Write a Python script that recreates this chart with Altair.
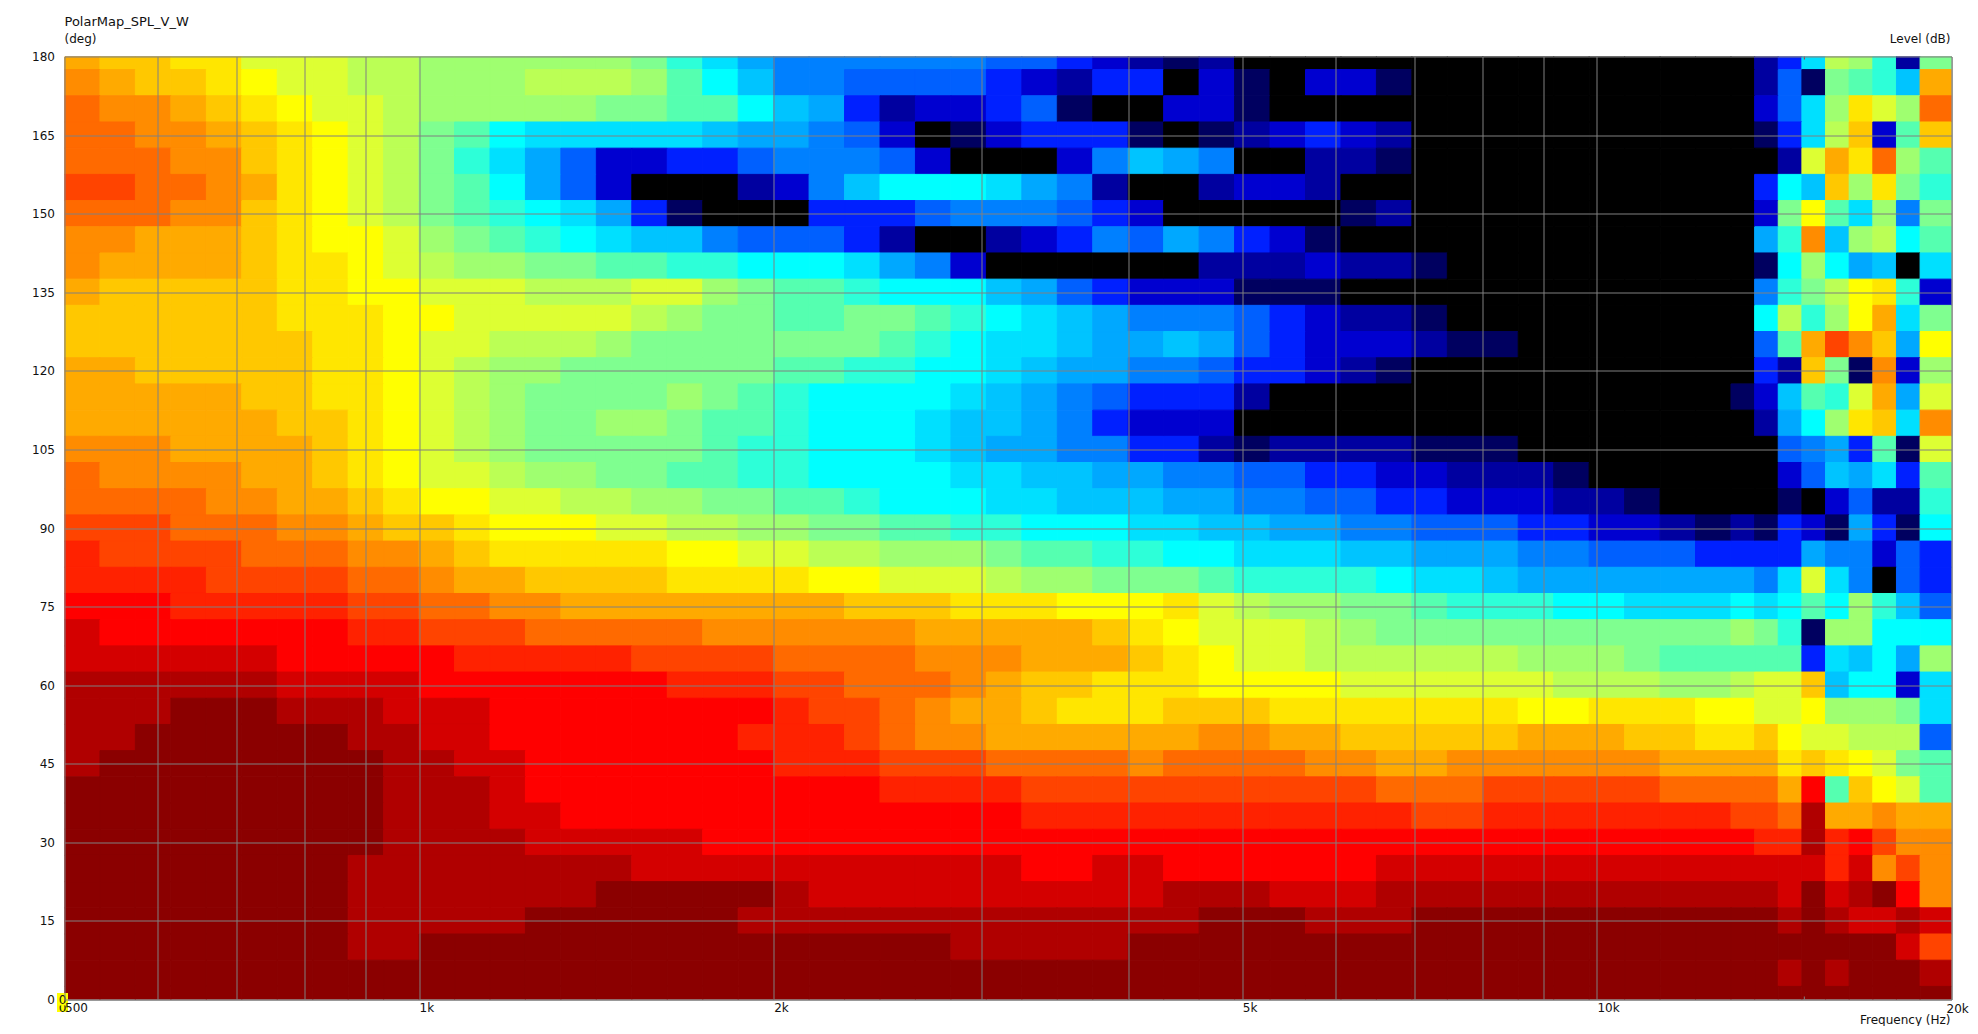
import altair as alt
import pandas as pd

FREQ_EDGES = [500, 535.9, 574.3, 615.6, 659.8, 707.1, 757.9, 812.3, 870.6, 933, 1000, 1071.8, 1148.7, 1231.1,
              1319.5, 1414.2, 1515.7, 1624.5, 1741.1, 1866.1, 2000, 2143.5, 2297.4, 2462.3, 2639, 2828.4, 3031.4,
              3249, 3482.2, 3732.1, 4000, 4287, 4594.8, 4924.6, 5278, 5656.9, 6062.9, 6498, 6964.4, 7464.3, 8000,
              8574, 9189.6, 9849.2, 10556, 11313.7, 12125.7, 12996, 13611, 14254, 14929, 15635, 16374, 17149,
              17960, 18809, 20000]
GRID_FREQS = [500, 600, 700, 800, 900, 1000, 2000, 3000, 4000, 5000, 6000, 7000, 8000, 9000, 10000, 20000]
ANGLE_TICKS = [0, 15, 30, 45, 60, 75, 90, 105, 120, 135, 150, 165, 180]
MINOR_TICK_FREQ = [15000]
BAND_COLORS = ["#8b0000", "#b00000", "#d40000", "#ff0000", "#ff2200", "#ff4400", "#ff6a00", "#ff8c00", "#ffaa00",
               "#ffc800", "#ffe600", "#ffff00", "#ddff33", "#bbff55", "#9fff70", "#7fff90", "#55ffb0", "#2dffd8",
               "#00ffff", "#00e0ff", "#00c4ff", "#00a8ff", "#0080ff", "#0060ff", "#0020ff", "#0000d0", "#0000a0",
               "#000060", "#000000"]
B = 28
R180 = [8,9,9,10,10,12,12,12,13,13, 14,14,14,14,14,14,15,17,19,21, 22,22,22,22,22,22,23,23,24,25, 26,27,26,B,B,B,B,B,B,B, B,B,B,B,B,B,B, B,26,24,19,13,14,17,26,15]
R175 = [7,8,9,9,10,11,12,12,13,13, 14,14,14,13,13,13,14,16,18,20, 22,22,23,23,23,23,24,25,26,24, 24,B,25,27,B,25,25,27,B,B, B,B,B,B,B,B,B, B,26,23,27,15,16,17,20,8]
R170 = [6,7,7,8,9,10,11,12,12,13, 14,14,14,14,14,15,15,16,16,18, 20,21,24,26,25,25,24,23,27,B, B,25,25,27,B,B,B,B,B,B, B,B,B,B,B,B,B, B,25,23,19,14,10,12,14,6]
R165 = [6,6,7,7,8,9,10,11,12,13, 15,16,18,19,19,19,19,19,20,21, 21,22,23,25,B,27,25,24,24,24, 27,B,27,26,25,24,25,26,B,B, B,B,B,B,B,B,B, B,27,24,19,13,9,25,16,9]
R160 = [6,6,6,7,7,9,10,11,12,13, 15,17,19,21,23,25,25,24,24,23, 22,22,22,23,25,B,B,B,25,22, 20,21,22,B,B,26,26,27,B,B, B,B,B,B,B,B,B, B,B,26,12,8,10,6,14,16]
R155 = [5,5,6,6,7,8,10,11,12,13, 15,16,18,21,23,25,B,B,B,26, 25,22,20,18,18,18,19,21,22,26, B,B,26,25,25,26,B,B,B,B, B,B,B,B,B,B,B, B,24,18,20,9,14,10,15,17]
R150 = [6,6,6,7,7,9,10,11,12,13, 15,16,17,18,19,21,24,27,B,B, B,24,24,24,23,22,22,22,23,24, 25,B,B,B,B,B,27,26,B,B, B,B,B,B,B,B,B, B,25,15,11,16,19,14,22,15]
R145 = [7,7,8,8,8,9,10,11,11,12, 14,15,16,17,18,19,20,20,22,23, 23,23,24,26,B,B,26,25,24,22, 23,21,22,24,25,27,B,B,B,B, B,B,B,B,B,B,B, B,21,17,7,20,14,13,18,16]
R140 = [7,8,8,8,8,9,10,10,11,12, 13,14,14,15,15,16,16,17,17,18, 18,18,19,21,22,25,B,B,B,B, B,B,26,26,26,25,26,26,27,B, B,B,B,B,B,B,B, B,27,18,14,18,21,20,B,19]
R135 = [8,9,9,9,9,9,10,10,11,11, 12,12,12,13,13,13,12,12,14,15, 16,16,17,18,18,18,20,21,23,24, 25,25,25,27,27,27,B,B,B,B, B,B,B,B,B,B,B, B,22,17,15,13,11,10,17,25]
R130 = [9,9,9,9,9,9,10,10,10,11, 11,12,12,12,12,12,13,14,15,15, 16,16,15,15,16,17,18,19,20,21, 22,22,22,23,24,25,26,26,27,B, B,B,B,B,B,B,B, B,18,13,17,14,11,8,19,15]
R125 = [9,9,9,9,9,9,9,10,10,11, 12,12,13,13,13,14,15,15,15,15, 15,15,15,16,17,18,19,19,20,21, 21,20,21,23,24,25,25,25,26,27, 27,B,B,B,B,B,B, B,23,16,8,5,7,9,21,11]
R120 = [8,8,9,9,9,9,9,10,10,11, 12,13,14,14,15,15,15,15,15,15, 16,16,17,17,18,18,19,20,21,21, 22,22,23,24,24,25,26,27,B,B, B,B,B,B,B,B,B, B,24,26,9,15,27,7,25,14]
R115 = [8,8,8,8,8,9,9,10,10,11, 12,13,14,15,15,15,15,14,15,16, 17,18,18,18,18,19,20,21,22,23, 24,24,24,26,B,B,B,B,B,B, B,B,B,B,B,B,B, 27,25,20,16,17,12,8,21,12]
R110 = [8,8,8,8,8,8,9,9,10,11, 12,13,14,15,15,14,14,15,16,16, 17,18,18,18,19,20,20,21,22,24, 25,25,25,B,B,B,B,B,B,B, B,B,B,B,B,B,B, B,26,21,18,14,10,9,19,7]
R105 = [7,7,7,8,8,8,8,9,10,11, 12,13,14,15,15,15,15,15,16,17, 17,18,18,18,19,20,21,21,22,22, 24,24,26,27,26,26,26,26,27,27, 27,B,B,B,B,B,B, B,B,23,22,21,24,16,27,12]
R100 = [6,7,7,7,7,8,8,9,10,11, 12,12,13,14,14,15,15,16,16,17, 17,18,18,18,18,19,19,20,20,21, 21,22,22,23,23,24,24,25,25,26, 26,26,27,B,B,B,B, B,B,25,23,20,21,19,24,16]
R95 = [6,6,6,6,7,7,8,8,9,10, 11,11,12,12,13,13,14,14,15,15, 16,16,17,18,18,18,19,19,20,20, 20,21,21,22,22,23,23,24,24,25, 25,25,26,26,27,B,B, B,B,27,B,25,23,26,26,17]
R90 = [5,5,5,6,6,6,7,7,8,9, 9,10,11,11,11,12,12,13,13,14, 14,15,15,16,16,17,17,18,18,18, 19,19,20,20,21,21,22,22,23,23, 23,24,24,25,25,26,27, 26,27,24,25,27,21,24,27,18]
R85 = [4,5,5,5,5,6,6,6,7,7, 8,9,10,10,10,10,10,11,11,12, 12,13,13,14,14,14,15,16,16,17, 17,18,18,19,19,19,20,20,21,21, 21,22,22,23,23,23,24, 24,24,24,21,22,22,25,23,24]
R80 = [4,4,4,4,5,5,5,5,6,6, 7,8,8,9,9,9,9,10,10,10, 10,11,11,12,12,12,13,14,14,15, 15,15,16,17,17,17,17,18,19,19, 20,21,21,21,21,21,21, 21,22,19,12,19,22,B,23,24]
R75 = [3,3,3,4,4,4,4,4,5,5, 6,6,7,7,8,8,8,8,8,8, 8,8,9,9,9,10,10,10,11,11, 11,10,12,13,14,14,15,15,16,17, 17,17,18,18,19,19,19, 18,19,18,16,18,14,17,20,23]
R70 = [2,3,3,3,3,3,3,3,4,4, 5,5,5,6,6,6,6,6,7,7, 7,7,7,7,8,8,8,8,8,9, 10,11,12,12,12,13,14,15,15,15, 15,15,15,15,15,15,15, 14,15,17,27,14,14,18,18,18]
R65 = [2,2,2,2,2,2,3,3,3,3, 3,4,4,4,4,4,5,5,5,5, 6,6,6,6,7,7,7,8,8,8, 9,10,11,12,12,13,13,13,13,13, 13,14,14,14,15,16,16, 16,16,16,24,19,20,18,21,14]
R60 = [1,1,1,1,1,1,2,2,2,2, 3,3,3,3,3,3,3,4,4,4, 5,5,6,6,6,7,8,9,9,10, 10,10,11,11,11,11,12,12,12,12, 12,12,13,13,13,14,14, 13,12,12,9,20,18,18,25,19]
R55 = [1,1,1,0,0,0,1,1,1,2, 2,2,3,3,3,3,3,3,3,3, 4,5,5,6,7,8,8,9,10,10, 10,9,9,9,10,10,10,10,10,10, 10,11,11,10,10,10,11, 11,12,12,11,14,14,14,15,19]
R50 = [1,1,0,0,0,0,0,0,1,1, 2,2,3,3,3,3,3,3,3,4, 4,4,5,6,7,7,8,8,8,8, 8,8,7,7,8,8,9,9,9,9, 9,8,8,8,9,9,10, 10,9,11,12,12,13,13,13,23]
R45 = [1,0,0,0,0,0,0,0,0,1, 1,2,2,3,3,3,3,3,3,3, 4,4,4,5,5,5,6,6,6,6, 7,6,6,6,6,7,7,8,8,7, 7,7,7,7,7,8,8, 8,8,10,9,10,11,12,15,16]
R40 = [0,0,0,0,0,0,0,0,0,1, 1,1,2,3,3,3,3,3,3,3, 3,3,3,4,4,4,4,5,5,5, 5,5,5,5,5,5,5,6,6,6, 5,5,5,5,5,6,6, 6,6,8,3,16,9,11,12,16]
R35 = [0,0,0,0,0,0,0,0,0,1, 1,1,2,2,3,3,3,3,3,3, 3,3,3,3,3,3,3,4,4,4, 4,4,4,4,4,4,4,4,5,5, 4,4,4,4,4,4,4, 5,5,6,1,8,8,7,8,8]
R30 = [0,0,0,0,0,0,0,0,0,1, 1,1,1,2,2,2,2,2,3,3, 3,3,3,3,3,3,3,3,3,3, 3,3,3,3,3,3,3,3,3,3, 3,3,3,3,3,3,3, 3,4,4,1,4,3,5,7,7]
R25 = [0,0,0,0,0,0,0,0,1,1, 1,1,1,1,1,1,2,2,2,2, 2,2,2,2,2,2,2,3,3,2, 2,3,3,3,3,3,3,2,2,2, 2,2,2,2,2,2,2, 2,2,2,2,4,2,7,5,7]
R20 = [0,0,0,0,0,0,0,0,1,1, 1,1,1,1,1,0,0,0,0,0, 1,2,2,2,2,2,2,2,2,2, 2,1,1,1,2,2,2,1,1,1, 1,1,1,1,1,1,1, 1,1,2,0,2,1,0,3,7]
R15 = [0,0,0,0,0,0,0,0,1,1, 1,1,1,0,0,0,0,0,0,1, 1,1,1,1,1,1,1,1,1,1, 1,1,0,0,0,1,1,1,0,0, 0,0,0,0,0,0,0, 0,0,1,0,1,2,2,1,2]
R10 = [0,0,0,0,0,0,0,0,1,1, 0,0,0,0,0,0,0,0,0,0, 0,0,0,0,0,1,1,1,1,1, 0,0,0,0,0,0,0,0,0,0, 0,0,0,0,0,0,0, 0,0,0,0,0,0,0,2,5]
R5 = [0,0,0,0,0,0,0,0,0,0, 0,0,0,0,0,0,0,0,0,0, 0,0,0,0,0,0,0,0,0,0, 0,0,0,0,0,0,0,0,0,0, 0,0,0,0,0,0,0, 0,0,1,0,1,0,0,0,1]
R0 = [0,0,0,0,0,0,0,0,0,0, 0,0,0,0,0,0,0,0,0,0, 0,0,0,0,0,0,0,0,0,0, 0,0,0,0,0,0,0,0,0,0, 0,0,0,0,0,0,0, 0,0,0,0,0,0,0,0,0]

ROWS = {180: R180, 175: R175, 170: R170, 165: R165, 160: R160, 155: R155, 150: R150, 145: R145, 140: R140,
        135: R135, 130: R130, 125: R125, 120: R120, 115: R115, 110: R110, 105: R105, 100: R100, 95: R95, 90: R90,
        85: R85, 80: R80, 75: R75, 70: R70, 65: R65, 60: R60, 55: R55, 50: R50, 45: R45, 40: R40, 35: R35,
        30: R30, 25: R25, 20: R20, 15: R15, 10: R10, 5: R5, 0: R0}

records = []
for angle, row in ROWS.items():
    assert len(row) == len(FREQ_EDGES) - 1, (angle, len(row))
    for i, band in enumerate(row):
        records.append({"f0": FREQ_EDGES[i], "f1": FREQ_EDGES[i + 1], "a0": angle - 2.5, "a1": angle + 2.5, "band": band})
df = pd.DataFrame(records)

W, H = 1887, 943
FONT = "DejaVu Sans"
TXT = "#111111"
band_scale = alt.Scale(domain=list(range(len(BAND_COLORS))), range=BAND_COLORS)
x_scale = alt.Scale(type="log", base=10, domain=[500, 20000], nice=False)

x_axis = alt.Axis(values=GRID_FREQS, grid=True, gridColor="#808080", gridOpacity=1, gridWidth=1, domain=False, ticks=False,
                  title=None, labelFont=FONT, labelFontSize=12, labelColor=TXT, labelAlign="left", labelPadding=3,
                  labelOverlap=False, labelFlush=False, zindex=1,
                  labelExpr="datum.value==500?'500':datum.value==1000?'1k':datum.value==2000?'2k':datum.value==5000?'5k':datum.value==10000?'10k':''")
y_axis = alt.Axis(values=ANGLE_TICKS, grid=True, gridColor="#808080", gridOpacity=1, gridWidth=1, domain=False, ticks=False,
                  title=None, labelFont=FONT, labelFontSize=12, labelColor=TXT, labelPadding=10, labelOverlap=False,
                  labelFlush=False, zindex=1)

heat = alt.Chart(df).mark_rect(clip=True, strokeWidth=1).encode(
    x=alt.X("f0:Q", scale=x_scale, axis=x_axis),
    x2="f1:Q",
    y=alt.Y("a0:Q", scale=alt.Scale(domain=[0, 180], nice=False, zero=True), axis=y_axis),
    y2="a1:Q",
    color=alt.Color("band:N", scale=band_scale, legend=None),
    stroke=alt.Color("band:N", scale=band_scale, legend=None),
)

def label(text, x, y, align="left", size=12):
    return alt.Chart(pd.DataFrame({"t": [text]})).mark_text(
        font=FONT, fontSize=size, color=TXT, align=align, baseline="middle"
    ).encode(x=alt.value(x), y=alt.value(y), text="t:N")

def yellow(y0, y1):
    return alt.Chart(pd.DataFrame({"t": [0]})).mark_rect(color="#ffff00").encode(
        x=alt.value(-7.5), x2=alt.value(3.5), y=alt.value(y0), y2=alt.value(y1))

minor_bottom = alt.Chart(pd.DataFrame({"f": MINOR_TICK_FREQ})).mark_rule(color="#808080").encode(
    x=alt.X("f:Q", scale=x_scale), y=alt.value(H - 3), y2=alt.value(H))
minor_top = alt.Chart(pd.DataFrame({"f": MINOR_TICK_FREQ})).mark_rule(color="#b03030").encode(
    x=alt.X("f:Q", scale=x_scale), y=alt.value(0), y2=alt.value(3))

chart = alt.layer(
    heat,
    minor_bottom,
    minor_top,
    label("PolarMap_SPL_V_W", 0, -34.5, size=13),
    label("(deg)", 0, -17.5),
    label("Level  (dB)", W - 1, -17.5, "right"),
    label("Frequency  (Hz)", W - 1, H + 20, "right"),
    label("20k", W - 5, H + 9.5),
    yellow(H - 6.5, H + 12.5),
    label("0", -2, H + 8, "center"),
    yellow(H - 6.5, H + 6),
    label("0", -2, H, "center"),
).properties(
    width=W, height=H,
    padding={"left": 56.5, "top": 48.5, "right": 18, "bottom": 26},
    autosize=alt.AutoSizeParams(type="none"),
    background="white",
).configure_view(stroke="#666666", strokeWidth=1)

chart.save("out.html", embed_options={"renderer": "svg", "actions": False})
